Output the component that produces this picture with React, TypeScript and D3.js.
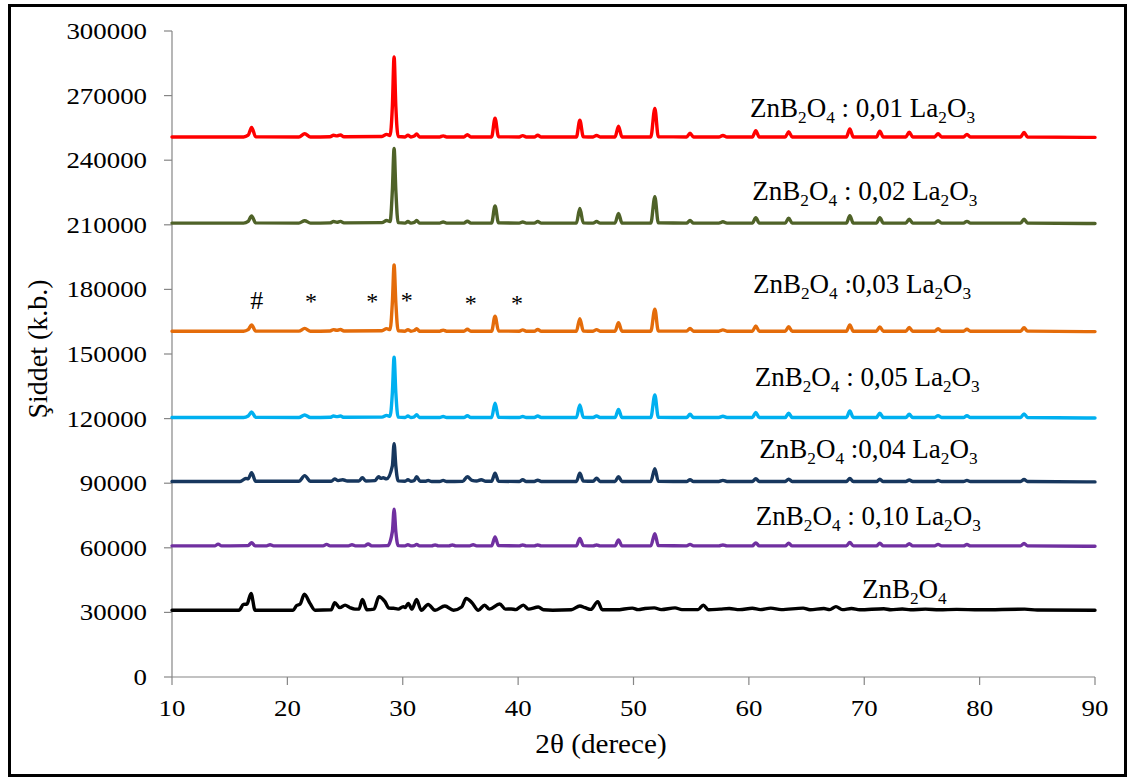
import React from 'react';
import * as d3 from 'd3';

type Pt = [number, number];

const xTicks = [10, 20, 30, 40, 50, 60, 70, 80, 90];
const yTicks = [0, 30000, 60000, 90000, 120000, 150000, 180000, 210000, 240000, 270000, 300000];

// ZnB2O4 : 0,01 La2O3
const s001: Pt[] = [
  [10, 250800], [16.2, 250800], [16.6, 251600], [16.9, 255200], [17.25, 250900], [21.0, 250800], [21.5, 252300], [22.0, 250800],
  [23.7, 250900], [24.0, 251600], [24.3, 251300], [24.6, 251700], [24.9, 250900], [28.2, 251000], [28.6, 252000], [28.9, 251500],
  [29.1, 265000], [29.25, 288000], [29.4, 265000], [29.6, 251000], [30.2, 250800], [30.45, 251600], [30.7, 250800], [31.0, 251200],
  [31.2, 252200], [31.45, 250800], [33.2, 250800], [33.5, 251300], [33.8, 250800], [35.3, 250800], [35.6, 251800], [35.9, 250800],
  [37.7, 250800], [38.0, 259500], [38.3, 250900], [40.1, 250800], [40.4, 251400], [40.7, 250800], [41.4, 250800], [41.7, 251600],
  [42.0, 250800], [45.05, 250800], [45.35, 258600], [45.65, 250900], [46.5, 250800], [46.8, 251500], [47.1, 250800], [48.4, 250800],
  [48.7, 255800], [49.0, 250800], [51.5, 250800], [51.85, 264000], [52.15, 250900], [54.6, 250800], [54.9, 252500], [55.2, 250800],
  [57.4, 250800], [57.75, 251500], [58.1, 250800], [60.3, 250800], [60.6, 253700], [60.9, 250800], [63.15, 250800], [63.45, 253200],
  [63.75, 250800], [68.45, 250800], [68.75, 254500], [69.05, 250800], [71.05, 250800], [71.35, 253500], [71.65, 250800], [73.6, 250800],
  [73.9, 253000], [74.2, 250800], [76.1, 250800], [76.4, 252300], [76.7, 250800], [78.6, 250800], [78.9, 252000], [79.2, 250800],
  [83.55, 250800], [83.85, 252900], [84.15, 250800], [90, 250600],
];

// ZnB2O4 : 0,02 La2O3
const s002: Pt[] = [
  [10, 210800], [16.2, 210800], [16.6, 211600], [16.9, 214100], [17.25, 210900], [21.0, 210800], [21.5, 211900], [22.0, 210800],
  [23.7, 210900], [24.0, 211500], [24.3, 211200], [24.6, 211600], [24.9, 210900], [28.2, 211000], [28.6, 212000], [28.9, 211500],
  [29.1, 226000], [29.25, 245500], [29.4, 226000], [29.6, 211000], [30.2, 210800], [30.45, 211500], [30.7, 210800], [31.0, 211100],
  [31.2, 212000], [31.45, 210800], [33.2, 210800], [33.5, 211300], [33.8, 210800], [35.3, 210800], [35.6, 211700], [35.9, 210800],
  [37.7, 210800], [38.0, 218800], [38.3, 210900], [40.1, 210800], [40.4, 211300], [40.7, 210800], [41.4, 210800], [41.7, 211500],
  [42.0, 210800], [45.05, 210800], [45.35, 217600], [45.65, 210900], [46.5, 210800], [46.8, 211500], [47.1, 210800], [48.4, 210800],
  [48.7, 215300], [49.0, 210800], [51.5, 210800], [51.85, 223000], [52.15, 210900], [54.6, 210800], [54.9, 212000], [55.2, 210800],
  [57.4, 210800], [57.75, 211400], [58.1, 210800], [60.3, 210800], [60.6, 213300], [60.9, 210800], [63.15, 210800], [63.45, 213100],
  [63.75, 210800], [68.45, 210800], [68.75, 214200], [69.05, 210800], [71.05, 210800], [71.35, 213300], [71.65, 210800], [73.6, 210800],
  [73.9, 212600], [74.2, 210800], [76.1, 210800], [76.4, 211900], [76.7, 210800], [78.6, 210800], [78.9, 211600], [79.2, 210800],
  [83.55, 210800], [83.85, 212600], [84.15, 210800], [90, 210600],
];

// ZnB2O4 : 0,03 La2O3
const s003: Pt[] = [
  [10, 160600], [16.2, 160600], [16.6, 161300], [16.9, 163500], [17.25, 160700], [21.0, 160600], [21.5, 161900], [22.0, 160600],
  [23.7, 160700], [24.0, 161300], [24.3, 161000], [24.6, 161400], [24.9, 160700], [28.2, 160800], [28.6, 161800], [28.9, 161300],
  [29.1, 174000], [29.25, 191300], [29.4, 174000], [29.6, 160800], [30.2, 160600], [30.45, 161300], [30.7, 160600], [31.0, 160900],
  [31.2, 161800], [31.45, 160600], [33.2, 160600], [33.5, 161100], [33.8, 160600], [35.3, 160600], [35.6, 161500], [35.9, 160600],
  [37.7, 160600], [38.0, 167600], [38.3, 160700], [40.1, 160600], [40.4, 161200], [40.7, 160600], [41.4, 160600], [41.7, 161400],
  [42.0, 160600], [45.05, 160600], [45.35, 166400], [45.65, 160700], [46.5, 160600], [46.8, 161300], [47.1, 160600], [48.4, 160600],
  [48.7, 164500], [49.0, 160600], [51.5, 160600], [51.85, 170800], [52.15, 160700], [54.6, 160600], [54.9, 161900], [55.2, 160600],
  [57.4, 160600], [57.75, 161200], [58.1, 160600], [60.3, 160600], [60.6, 163000], [60.9, 160600], [63.15, 160600], [63.45, 162700],
  [63.75, 160600], [68.45, 160600], [68.75, 163500], [69.05, 160600], [71.05, 160600], [71.35, 162600], [71.65, 160600], [73.6, 160600],
  [73.9, 162300], [74.2, 160600], [76.1, 160600], [76.4, 161700], [76.7, 160600], [78.6, 160600], [78.9, 161500], [79.2, 160600],
  [83.55, 160600], [83.85, 162200], [84.15, 160600], [90, 160400],
];

// ZnB2O4 : 0,05 La2O3
const s005: Pt[] = [
  [10, 120500], [16.2, 120500], [16.6, 121200], [16.9, 123100], [17.25, 120600], [21.0, 120500], [21.5, 121700], [22.0, 120500],
  [23.7, 120600], [24.0, 121200], [24.3, 120900], [24.6, 121200], [24.9, 120600], [28.2, 120700], [28.6, 121500], [28.9, 121100],
  [29.1, 132000], [29.25, 148500], [29.4, 132000], [29.6, 120700], [30.2, 120500], [30.45, 121200], [30.7, 120500], [31.0, 120800],
  [31.2, 121800], [31.45, 120500], [33.2, 120500], [33.5, 121000], [33.8, 120500], [35.3, 120500], [35.6, 121300], [35.9, 120500],
  [37.7, 120500], [38.0, 127100], [38.3, 120600], [40.1, 120500], [40.4, 121000], [40.7, 120500], [41.4, 120500], [41.7, 121200],
  [42.0, 120500], [45.05, 120500], [45.35, 126300], [45.65, 120600], [46.5, 120500], [46.8, 121200], [47.1, 120500], [48.4, 120500],
  [48.7, 124300], [49.0, 120500], [51.5, 120500], [51.85, 131000], [52.15, 120600], [54.6, 120500], [54.9, 122000], [55.2, 120500],
  [57.4, 120500], [57.75, 121100], [58.1, 120500], [60.3, 120500], [60.6, 122900], [60.9, 120500], [63.15, 120500], [63.45, 122500],
  [63.75, 120500], [68.45, 120500], [68.75, 123500], [69.05, 120500], [71.05, 120500], [71.35, 122500], [71.65, 120500], [73.6, 120500],
  [73.9, 122000], [74.2, 120500], [76.1, 120500], [76.4, 121400], [76.7, 120500], [78.6, 120500], [78.9, 121300], [79.2, 120500],
  [83.55, 120500], [83.85, 122200], [84.15, 120500], [90, 120300],
];

// ZnB2O4 : 0,04 La2O3
const s004: Pt[] = [
  [10, 90800], [15.9, 90800], [16.4, 92200], [16.6, 92000], [16.9, 94900], [17.25, 90900], [21.0, 90900], [21.5, 93500], [22.0, 90900],
  [23.8, 90900], [24.1, 92000], [24.4, 91200], [24.8, 91600], [25.2, 91000], [26.2, 91000], [26.5, 92600], [26.8, 91000],
  [27.6, 91200], [27.9, 93000], [28.1, 92300], [28.3, 92500], [28.6, 92000], [29.1, 98000], [29.25, 108400], [29.4, 98000],
  [29.6, 91100], [30.2, 90900], [30.45, 91600], [30.7, 90900], [31.0, 91300], [31.2, 93000], [31.5, 90900], [32.0, 90900],
  [32.2, 91300], [32.5, 90800], [33.2, 90800], [33.5, 91300], [33.8, 90800], [35.2, 90900], [35.6, 93000], [36.0, 91300],
  [36.4, 91000], [36.8, 91600], [37.2, 90900], [37.7, 90900], [38.0, 94600], [38.3, 90900], [40.1, 90800], [40.4, 91600],
  [40.7, 90800], [41.4, 90800], [41.7, 91400], [42.0, 90800], [45.05, 90800], [45.35, 94600], [45.65, 91000], [46.5, 90900],
  [46.8, 92300], [47.1, 90800], [48.4, 90800], [48.7, 93000], [49.0, 90800], [51.5, 90800], [51.85, 96700], [52.15, 90900],
  [54.6, 90800], [54.9, 91600], [55.2, 90800], [57.4, 90800], [57.75, 91300], [58.1, 90800], [60.3, 90800], [60.6, 92100],
  [60.9, 90800], [63.15, 90800], [63.45, 91900], [63.75, 90800], [68.45, 90800], [68.75, 92200], [69.05, 90800], [71.05, 90800],
  [71.35, 91800], [71.65, 90800], [73.6, 90800], [73.9, 91500], [74.2, 90800], [76.1, 90800], [76.4, 91300], [76.7, 90800],
  [78.6, 90800], [78.9, 91300], [79.2, 90800], [83.55, 90800], [83.85, 91700], [84.15, 90800], [90, 90600],
];

// ZnB2O4 : 0,10 La2O3
const s010: Pt[] = [
  [10, 60900], [13.7, 60900], [14.0, 61700], [14.3, 60900], [16.6, 61000], [16.9, 62400], [17.2, 60900], [18.2, 60900],
  [18.5, 61400], [18.8, 60900], [23.1, 60900], [23.4, 61600], [23.7, 60900], [25.3, 60900], [25.6, 61400], [25.9, 60900],
  [26.7, 60900], [27.0, 61800], [27.3, 60900], [28.7, 61000], [29.1, 67500], [29.25, 77900], [29.4, 67500], [29.6, 61000],
  [30.2, 60900], [30.45, 61400], [30.7, 60900], [31.0, 61000], [31.2, 61600], [31.45, 60900], [32.5, 60900], [32.8, 61300],
  [33.1, 60900], [34.0, 60900], [34.3, 61300], [34.6, 60900], [35.8, 60900], [36.1, 61400], [36.4, 60900], [37.7, 60900],
  [38.0, 65000], [38.3, 61000], [40.1, 60900], [40.4, 61300], [40.7, 60900], [41.4, 60900], [41.7, 61300], [42.0, 60900],
  [45.05, 60900], [45.35, 64400], [45.65, 61000], [46.5, 60900], [46.8, 61300], [47.1, 60900], [48.4, 60900], [48.7, 63600],
  [49.0, 60900], [51.5, 60900], [51.85, 66600], [52.15, 61000], [54.6, 60900], [54.9, 61600], [55.2, 60900], [57.4, 60900],
  [57.75, 61300], [58.1, 60900], [60.3, 60900], [60.6, 62300], [60.9, 60900], [63.15, 60900], [63.45, 62100], [63.75, 60900],
  [68.45, 60900], [68.75, 62500], [69.05, 60900], [71.05, 60900], [71.35, 62100], [71.65, 60900], [73.6, 60900], [73.9, 61900],
  [74.2, 60900], [76.1, 60900], [76.4, 61600], [76.7, 60900], [78.6, 60900], [78.9, 61500], [79.2, 60900], [83.55, 60900],
  [83.85, 62000], [84.15, 60900], [90, 60700],
];

// ZnB2O4
const s000: Pt[] = [
  [10, 31000], [15.8, 31000], [16.2, 33700], [16.5, 33900], [16.85, 38800], [17.2, 31000], [20.5, 31000], [20.8, 33200],
  [21.1, 33800], [21.47, 38400], [21.96, 34200], [22.4, 31000], [23.8, 31200], [24.1, 34500], [24.55, 32200], [25.0, 33400],
  [25.4, 32300], [25.86, 31500], [26.2, 31500], [26.5, 36000], [26.9, 31200], [27.5, 31500], [27.94, 37300], [28.46, 35000],
  [28.8, 32000], [29.2, 31900], [29.6, 31500], [30.05, 32700], [30.2, 32200], [30.48, 34200], [30.8, 31500], [31.2, 36000],
  [31.6, 31000], [32.2, 33700], [32.8, 31000], [33.65, 33000], [34.4, 31000], [35.1, 32500], [35.5, 36500], [36.0, 34500],
  [36.55, 31000], [37.1, 33400], [37.5, 31500], [38.4, 33900], [38.9, 31500], [39.4, 31600], [39.8, 31300], [40.45, 33400],
  [40.9, 31500], [41.75, 32500], [42.2, 31200], [43.0, 31000], [44.6, 31200], [45.35, 33000], [45.8, 32200], [46.3, 31400],
  [46.9, 35000], [47.3, 31200], [48.5, 31200], [49.9, 32000], [50.4, 31300], [51.0, 31800], [51.8, 32100], [52.4, 31300],
  [53.6, 32100], [54.2, 31300], [55.6, 31300], [56.05, 33400], [56.5, 31200], [57.5, 31500], [58.3, 31800], [59.2, 31300],
  [60.3, 31900], [61.0, 31300], [61.9, 32000], [62.8, 31300], [64.7, 32000], [65.3, 31200], [66.5, 31800], [67.0, 31300],
  [67.55, 32700], [68.1, 31300], [68.9, 31800], [69.6, 31200], [71.7, 31700], [72.3, 31200], [73.3, 31600], [74.0, 31200],
  [75.3, 31500], [76.5, 31200], [78.0, 31400], [80.0, 31200], [83.9, 31500], [85.0, 31100], [90, 31000],
];

const dopants = [': 0,01', ': 0,02', ':0,03', ': 0,05', ':0,04', ': 0,10', ''];
const seriesData = [s001, s002, s003, s005, s004, s010, s000];
const seriesColors = ['#ff0000', '#4f6228', '#e46c0a', '#00b0f0', '#17375e', '#7030a0', '#000000'];
// label anchors (2θ, intensity) for text start
const labelX = [60.1, 60.3, 60.35, 60.5, 60.9, 60.6, 69.8];
const labelY = [260000, 221500, 178200, 135100, 101600, 70600, 36700];

const markSymbols = ['#', '*', '*', '*', '*', '*'];
const markX = [17.35, 22.05, 27.35, 30.35, 35.9, 39.9];
const markY = [170900, 170900, 170900, 171300, 170000, 170000];

const FONT = 'Liberation Serif, Times New Roman, serif';

const W = 1133;
const H = 780;

function Formula({ x, y, dopant, size }: { x: number; y: number; dopant: string; size: number }) {
  const sub = size * 0.64;
  const d = size * 0.22;
  return (
    <text x={x} y={y} style={{ fontFamily: FONT, fontSize: size }} fill="#000">
      <tspan>ZnB</tspan>
      <tspan style={{ fontSize: sub }} dy={d}>2</tspan>
      <tspan dy={-d}>O</tspan>
      <tspan style={{ fontSize: sub }} dy={d}>4</tspan>
      {dopant ? (
        <>
          <tspan dy={-d}>{' ' + dopant + ' La'}</tspan>
          <tspan style={{ fontSize: sub }} dy={d}>2</tspan>
          <tspan dy={-d}>O</tspan>
          <tspan style={{ fontSize: sub }} dy={d}>3</tspan>
        </>
      ) : null}
    </text>
  );
}

export default function App() {
  const x = d3.scaleLinear().domain([10, 90]).range([172, 1095]);
  const y = d3.scaleLinear().domain([0, 300000]).range([677, 31]);
  const line = d3
    .line<Pt>()
    .x((d) => x(d[0]))
    .y((d) => y(d[1]))
    .curve(d3.curveMonotoneX);

  const tickFont = 24;
  const sx = 1.12;

  return (
    <svg
      width={W}
      height={H}
      style={{ position: 'absolute', left: 0, top: 0, background: '#fff', fontFamily: FONT }}
      xmlns="http://www.w3.org/2000/svg"
    >
      <rect x={0} y={0} width={W} height={H} fill="#fff" />
      <rect x={9.5} y={5.5} width={1116} height={770} fill="none" stroke="#000" strokeWidth={3} />

      {/* axes */}
      <line x1={x(10)} x2={x(10)} y1={y(300000)} y2={y(0)} stroke="#868686" strokeWidth={1.2} />
      <line x1={x(10)} x2={x(90)} y1={y(0)} y2={y(0)} stroke="#868686" strokeWidth={1.2} />
      {yTicks.map((t) => (
        <g key={'y' + t}>
          <line x1={x(10) - 8} x2={x(10)} y1={y(t)} y2={y(t)} stroke="#868686" strokeWidth={1.2} />
          <text
            transform={`translate(${x(10) - 25},${y(t) + 8}) scale(${sx},1)`}
            textAnchor="end"
            style={{ fontFamily: FONT, fontSize: tickFont }}
            fill="#000"
          >
            {t}
          </text>
        </g>
      ))}
      {xTicks.map((t) => (
        <g key={'x' + t}>
          <line x1={x(t)} x2={x(t)} y1={y(0)} y2={y(0) + 8} stroke="#868686" strokeWidth={1.2} />
          <text
            transform={`translate(${x(t)},${716}) scale(${sx},1)`}
            textAnchor="middle"
            style={{ fontFamily: FONT, fontSize: tickFont }}
            fill="#000"
          >
            {t}
          </text>
        </g>
      ))}

      {/* axis titles */}
      <text
        transform={`translate(601,753) scale(1.08,1)`}
        textAnchor="middle"
        style={{ fontFamily: FONT, fontSize: 27 }}
        fill="#000"
      >
        2θ (derece)
      </text>
      <text
        transform={`translate(47,349) rotate(-90)`}
        textAnchor="middle"
        style={{ fontFamily: FONT, fontSize: 28 }}
        fill="#000"
      >
        Şiddet (k.b.)
      </text>

      {/* series */}
      {seriesData.map((s, i) => (
        <path
          key={'s' + i}
          d={line(s) || ''}
          fill="none"
          stroke={seriesColors[i]}
          strokeWidth={3.4}
          strokeLinejoin="round"
          strokeLinecap="round"
        />
      ))}

      {/* labels */}
      {dopants.map((dp, i) => (
        <Formula key={'l' + i} x={x(labelX[i])} y={y(labelY[i])} dopant={dp} size={27} />
      ))}

      {/* phase markers */}
      {markSymbols.map((m, i) => (
        <text
          key={'m' + i}
          x={x(markX[i])}
          y={y(markY[i])}
          textAnchor="middle"
          style={{ fontFamily: FONT, fontSize: m === '#' ? 26 : 24 }}
          fill="#000"
        >
          {m}
        </text>
      ))}
    </svg>
  );
}
